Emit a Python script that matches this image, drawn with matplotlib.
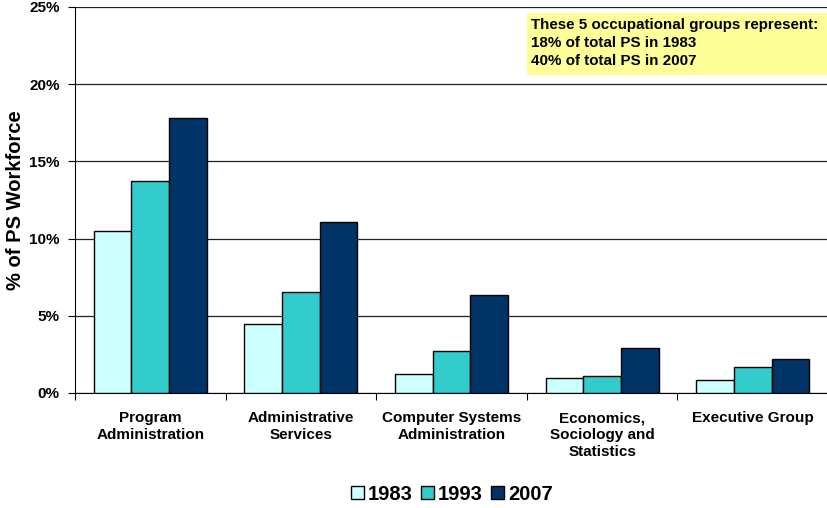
import matplotlib
matplotlib.use("Agg")
import matplotlib.pyplot as plt
import numpy as np
from matplotlib.ticker import FuncFormatter
from matplotlib.patches import Patch, Rectangle

plt.rcParams['font.family'] = ['Liberation Sans', 'DejaVu Sans']

categories = ["Program\nAdministration", "Administrative\nServices",
              "Computer Systems\nAdministration", "Economics,\nSociology and\nStatistics",
              "Executive Group"]
years = ["1983", "1993", "2007"]
v1983 = [10.5, 4.48, 1.2, 0.97, 0.81]
v1993 = [13.7, 6.55, 2.72, 1.13, 1.7]
v2007 = [17.78, 11.07, 6.36, 2.89, 2.23]
colors = ["#CCFFFF", "#33CCCC", "#003366"]
yticks = [0, 5, 10, 15, 20, 25]
note = "These 5 occupational groups represent:\n18% of total PS in 1983\n40% of total PS in 2007"

fig = plt.figure(figsize=(8.28, 5.08), dpi=100)
ax = fig.add_axes([75/828, 1-393/508, 753/828, 386/508])

x = np.arange(len(categories))
w = 0.25
for i, (vals, c, yr) in enumerate(zip([v1983, v1993, v2007], colors, years)):
    ax.bar(x + (i-1)*w, vals, width=w, color=c, edgecolor='black', linewidth=1.0, zorder=3, label=yr)

ax.set_xlim(-0.5, len(categories)-0.5)
ax.set_ylim(0, 25)
ax.set_yticks(yticks)
ax.yaxis.set_major_formatter(FuncFormatter(lambda v, p: f"{int(v)}%"))
ax.yaxis.grid(True, color='#222222', linewidth=0.9, zorder=0)
for lab in ax.get_yticklabels():
    lab.set_fontweight('bold')
    lab.set_fontsize(11)
ax.tick_params(axis='y', direction='out', length=5, width=0.8, pad=6)

ax.set_xticks(x)
ax.set_xticklabels(categories, fontsize=11, fontweight='bold', va='top', linespacing=1.25)
ax.tick_params(axis='x', which='major', length=0, pad=13)
ax.set_xticks(np.arange(-0.5, len(categories), 1.0), minor=True)
ax.tick_params(axis='x', which='minor', direction='out', length=5, width=0.8)

for s in ['top', 'right']:
    ax.spines[s].set_visible(False)
ax.spines['left'].set_color('black')
ax.spines['bottom'].set_color('black')

fig.text(16/828, 1-200/508, "% of PS Workforce", fontsize=14.5, fontweight='bold',
         rotation=90, ha='center', va='center')

fig.patches.append(Rectangle((527/828, 1-75/508), 301/828, 62/508, transform=fig.transFigure,
                             facecolor='#FFFF99', edgecolor='none', zorder=1))
fig.text(531/828, 1-18/508, note, fontsize=10.9, fontweight='bold', va='top', ha='left',
         linespacing=1.35, zorder=2)

handles = [Patch(facecolor=c, edgecolor='black', linewidth=1.0) for c in colors]
fig.legend(handles, years, loc='center', bbox_to_anchor=(452/828, 1-494/508), ncol=3,
           frameon=False, prop={'weight': 'bold', 'size': 14.5},
           handlelength=0.65, handleheight=0.65, handletextpad=0.2, columnspacing=0.4)

fig.savefig("out.png", dpi=100)
